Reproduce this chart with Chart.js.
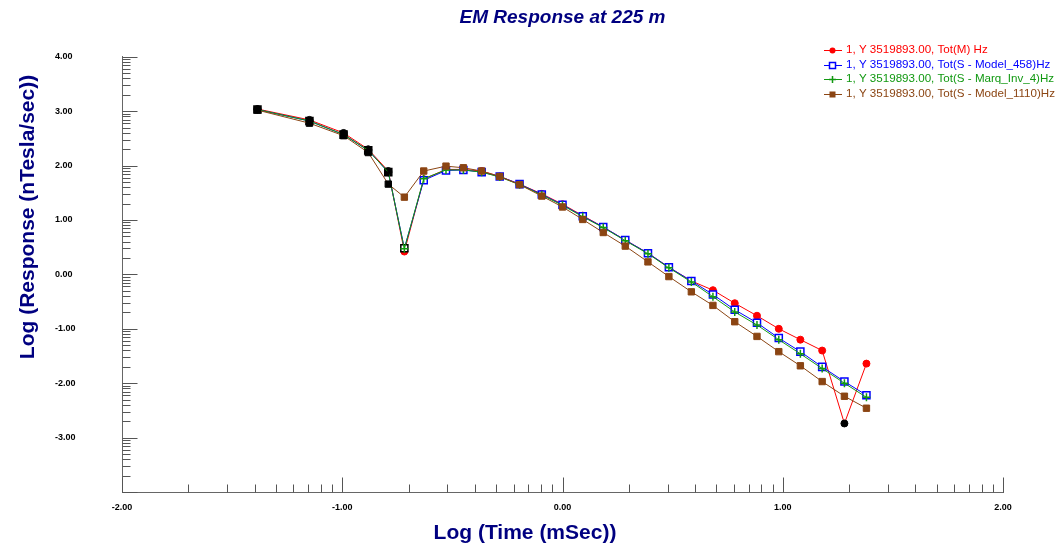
<!DOCTYPE html>
<html>
<head>
<meta charset="utf-8">
<style>
  html, body { margin: 0; padding: 0; background: #fff; }
  #wrap { width: 1061px; height: 544px; }
</style>
<script src="https://cdn.jsdelivr.net/npm/chart.js@4.4.1/dist/chart.umd.min.js"></script>
</head>
<body>
<div id="wrap"><canvas id="emChart"></canvas></div>
<script>
// log10 of gate times (mSec)
const logTime = [-1.385, -1.149, -0.994, -0.882, -0.791, -0.718, -0.630, -0.529, -0.450, -0.367,
                 -0.285, -0.195, -0.094, 0.000, 0.092, 0.185, 0.285, 0.388, 0.483, 0.585,
                 0.683, 0.782, 0.883, 0.982, 1.080, 1.179, 1.280, 1.380];

// log10 response (nTesla/sec)
const measured  = [3.04, 2.84, 2.60, 2.30, 1.90, 0.42, 1.75, 1.93, 1.93, 1.90, 1.80, 1.66, 1.48, 1.29,
                   1.08, 0.87, 0.63, 0.39, 0.13, -0.12, -0.29, -0.53, -0.76, -1.00, -1.20, -1.40, -2.74, -1.64];
const model458  = [3.03, 2.82, 2.57, 2.28, 1.88, 0.48, 1.73, 1.91, 1.92, 1.88, 1.80, 1.66, 1.47, 1.28,
                   1.07, 0.87, 0.63, 0.39, 0.13, -0.12, -0.37, -0.65, -0.89, -1.17, -1.42, -1.70, -1.97, -2.22];
const marqInv4  = [3.03, 2.82, 2.57, 2.28, 1.88, 0.47, 1.76, 1.92, 1.92, 1.88, 1.79, 1.65, 1.46, 1.27,
                   1.06, 0.86, 0.62, 0.38, 0.12, -0.14, -0.41, -0.69, -0.93, -1.20, -1.46, -1.73, -2.00, -2.26];
const model1110 = [3.02, 2.78, 2.55, 2.24, 1.66, 1.42, 1.90, 1.99, 1.96, 1.90, 1.80, 1.65, 1.44, 1.24,
                   1.01, 0.77, 0.52, 0.23, -0.04, -0.32, -0.57, -0.87, -1.14, -1.42, -1.68, -1.97, -2.24, -2.46];

const seriesLabels = [
  '1, Y 3519893.00, Tot(M) Hz',
  '1, Y 3519893.00, Tot(S - Model_458)Hz',
  '1, Y 3519893.00, Tot(S - Marq_Inv_4)Hz',
  '1, Y 3519893.00, Tot(S - Model_1110)Hz'
];

const xTicks = [-2, -1, 0, 1, 2];
const yTicks = [-4, -3, -2, -1, 0, 1, 2, 3, 4];

const NAVY = '#000080';

function toPoints(ys) {
  return ys.map((v, i) => ({ x: logTime[i], y: v }));
}

// points flagged black in the original plot
function pointColors(base, blackIdx) {
  return logTime.map((_, i) => blackIdx.includes(i) ? '#000000' : base);
}

const early = [0, 1, 2, 3, 4];

const datasets = [
  {
    label: seriesLabels[0],
    data: toPoints(measured),
    borderColor: '#ff0000',
    borderWidth: 1,
    pointStyle: 'circle',
    pointRadius: 3.5,
    pointBackgroundColor: pointColors('#ff0000', early.concat([26])),
    pointBorderColor: pointColors('#ff0000', early.concat([26])),
    pointBorderWidth: 1,
    order: 4
  },
  {
    label: seriesLabels[1],
    data: toPoints(model458),
    borderColor: '#0000ff',
    borderWidth: 1,
    pointStyle: 'rect',
    pointRadius: 5,
    pointBackgroundColor: pointColors('#ffffff', early),
    pointBorderColor: pointColors('#0000ff', early.concat([5])),
    pointBorderWidth: 1.5,
    order: 3
  },
  {
    label: seriesLabels[2],
    data: toPoints(marqInv4),
    borderColor: '#119911',
    borderWidth: 1,
    pointStyle: 'cross',
    pointRadius: 4,
    pointBackgroundColor: pointColors('#119911', early),
    pointBorderColor: pointColors('#119911', early),
    pointBorderWidth: 1.5,
    order: 2
  },
  {
    label: seriesLabels[3],
    data: toPoints(model1110),
    borderColor: '#8b4513',
    borderWidth: 1,
    pointStyle: 'rect',
    pointRadius: 4.5,
    pointBackgroundColor: pointColors('#8b4513', early),
    pointBorderColor: pointColors('#8b4513', early),
    pointBorderWidth: 1,
    order: 1
  }
];

function drawMarker(ctx, ds, x, y) {
  const c = ds.borderColor;
  ctx.save();
  ctx.strokeStyle = c;
  ctx.fillStyle = c;
  ctx.lineWidth = ds.pointBorderWidth;
  if (ds.pointStyle === 'circle') {
    ctx.beginPath();
    ctx.arc(x, y, 3, 0, Math.PI * 2);
    ctx.fill();
  } else if (ds.pointStyle === 'cross') {
    ctx.beginPath();
    ctx.moveTo(x - 3.5, y); ctx.lineTo(x + 3.5, y);
    ctx.moveTo(x, y - 3.5); ctx.lineTo(x, y + 3.5);
    ctx.stroke();
  } else if (ds.pointBackgroundColor[10] === '#ffffff') {
    ctx.fillStyle = '#fff';
    ctx.fillRect(x - 3, y - 3, 6, 6);
    ctx.strokeRect(x - 3, y - 3, 6, 6);
  } else {
    ctx.fillRect(x - 3, y - 3, 6, 6);
  }
  ctx.restore();
}

// inward log-style tick marks, axis titles and the legend block
const decor = {
  id: 'decor',
  afterDraw(chart) {
    const { ctx, chartArea, scales } = chart;
    const xs = scales.x, ys = scales.y;
    const bottom = Math.round(chartArea.bottom) + 0.5;
    const left = Math.round(chartArea.left) + 0.5;
    ctx.save();
    ctx.strokeStyle = '#555555';
    ctx.lineWidth = 1;
    ctx.beginPath();
    for (let n = -2; n <= 2; n++) {
      const px = Math.round(xs.getPixelForValue(n)) + 0.5;
      ctx.moveTo(px, bottom); ctx.lineTo(px, bottom - 15);
      if (n < 2) {
        for (let k = 2; k <= 9; k++) {
          const mx = Math.round(xs.getPixelForValue(n + Math.log10(k))) + 0.5;
          ctx.moveTo(mx, bottom); ctx.lineTo(mx, bottom - 8);
        }
      }
    }
    for (let n = -4; n <= 4; n++) {
      const py = Math.round(ys.getPixelForValue(n)) + 0.5;
      ctx.moveTo(left, py); ctx.lineTo(left + 15, py);
      if (n < 4) {
        for (let k = 2; k <= 9; k++) {
          const my = Math.round(ys.getPixelForValue(n + Math.log10(k))) + 0.5;
          ctx.moveTo(left, my); ctx.lineTo(left + 8, my);
        }
      }
    }
    ctx.stroke();

    // axis titles
    ctx.fillStyle = NAVY;
    ctx.font = 'bold 21px Arial, "Liberation Sans", sans-serif';
    ctx.textAlign = 'center';
    ctx.textBaseline = 'middle';
    ctx.fillText('Log (Time (mSec))', 525, 533);
    ctx.save();
    ctx.translate(28, 217);
    ctx.rotate(-Math.PI / 2);
    ctx.fillText('Log (Response (nTesla/sec))', 0, 0);
    ctx.restore();

    // legend
    ctx.font = '11.6px Arial, "Liberation Sans", sans-serif';
    ctx.textAlign = 'left';
    const rows = [50, 64.5, 79, 93.5];
    chart.data.datasets.forEach((ds, i) => {
      const cy = rows[i];
      ctx.strokeStyle = ds.borderColor;
      ctx.lineWidth = 1;
      ctx.beginPath();
      ctx.moveTo(824, Math.round(cy) + 0.5);
      ctx.lineTo(842, Math.round(cy) + 0.5);
      ctx.stroke();
      drawMarker(ctx, ds, 832.5, Math.round(cy) + 0.5);
      ctx.fillStyle = ds.borderColor;
      ctx.fillText(ds.label, 846, cy);
    });
    ctx.restore();
  }
};

const ctx = document.getElementById('emChart').getContext('2d');
const emChart = new Chart(ctx, {
  type: 'line',
  data: { datasets: datasets },
  options: {
    responsive: true,
    maintainAspectRatio: false,
    animation: false,
    devicePixelRatio: 1,
    layout: { padding: { left: 55, right: 58, top: 0, bottom: 0 } },
    elements: { line: { tension: 0 } },
    scales: {
      x: {
        type: 'linear',
        min: -2,
        max: 2,
        afterBuildTicks: (s) => { s.ticks = xTicks.map(v => ({ value: v })); },
        afterFit: (s) => { s.height = 52; },
        ticks: {
          callback: (v) => v.toFixed(2),
          color: '#000',
          font: { family: '"Liberation Sans Narrow", "Arial Narrow", Arial, sans-serif', size: 9, weight: 'bold' },
          padding: 10,
          maxRotation: 0,
          autoSkip: false
        },
        grid: { drawOnChartArea: false, drawTicks: false },
        border: { display: true, color: '#666666', width: 1 }
      },
      y: {
        type: 'linear',
        min: -4,
        max: 4,
        afterBuildTicks: (s) => { s.ticks = yTicks.map(v => ({ value: v })); },
        afterFit: (s) => { s.width = 67; },
        ticks: {
          callback: (v) => v > -4 ? v.toFixed(2) : '',
          color: '#000',
          crossAlign: 'far',
          font: { family: 'Arial, "Liberation Sans", sans-serif', size: 9, weight: 'bold' },
          autoSkip: false
        },
        grid: { drawOnChartArea: false, drawTicks: false },
        border: { display: true, color: '#666666', width: 1 }
      }
    },
    plugins: {
      legend: { display: false },
      tooltip: { enabled: false },
      title: {
        display: true,
        fullSize: false,
        text: 'EM Response at 225 m',
        color: NAVY,
        font: { family: 'Arial, "Liberation Sans", sans-serif', size: 19, weight: 'bold', style: 'italic' },
        padding: { top: 6, bottom: 28 }
      }
    }
  },
  plugins: [decor]
});
</script>
</body>
</html>
